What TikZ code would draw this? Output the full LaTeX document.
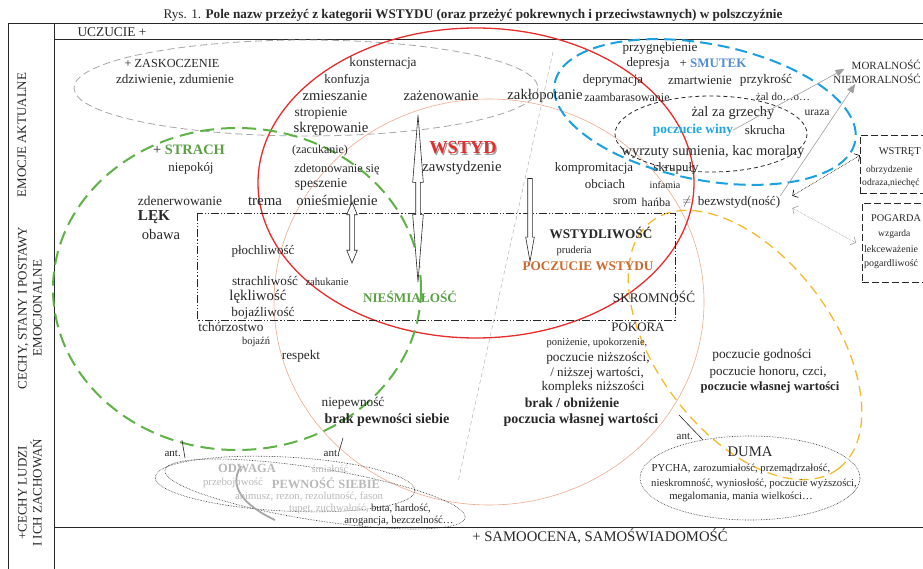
\documentclass[tikz,border=0pt]{standalone}
\usepackage{fontspec}
\setmainfont{Liberation Serif}
\usetikzlibrary{shapes.arrows,arrows.meta,calc}
\newcommand\fsz[1]{\fontsize{#1}{#1}\selectfont}
\definecolor{ink}{RGB}{40,40,40}
\definecolor{wred}{RGB}{232,44,44}
\definecolor{salmon}{RGB}{236,172,142}
\definecolor{fgreen}{RGB}{96,178,72}
\definecolor{tgreen}{RGB}{92,160,70}
\definecolor{sblue}{RGB}{28,160,226}
\definecolor{tblue}{RGB}{84,142,208}
\definecolor{wblue}{RGB}{32,166,226}
\definecolor{dyellow}{RGB}{246,186,46}
\definecolor{wbrown}{RGB}{204,104,44}
\begin{document}
\begin{tikzpicture}[x=1pt, y=-1pt,
lbl/.style = {inner sep=0pt, text=ink},
hazy/.style = {inner sep=0pt, text=gray!55},
side/.style = {inner sep=0pt, text=ink, rotate=90, align=center, font=\fontsize{13}{15}\selectfont},
frameline/.style = {line width=0.9pt, black!85},
hollow/.style = {draw=ink, fill=white, line width=0.6pt, inner xsep=0pt, inner ysep=2pt},
boxdash/.style = {draw=ink, line width=0.7pt, dash pattern=on 7pt off 3pt, inner sep=0pt, anchor=north west},
grayarr/.style = {gray!75, line width=0.6pt, -{Triangle[length=9pt,width=7pt]}},
dotarr/.style = {densely dotted, line width=0.6pt, {Straight Barb[length=4pt,width=9pt]}-{Straight Barb[length=4pt,width=9pt]}},
antline/.style = {ink, line width=0.6pt}
]
\fill[white] (0,0) rectangle (923,569);
\useasboundingbox (0,0) rectangle (923,569);

% title
\node[lbl, font=\fsz{13.2}] (title) at (473,15) {Rys. 1. \textbf{Pole nazw przeżyć z kategorii WSTYDU (oraz przeżyć pokrewnych i przeciwstawnych) w polszczyźnie}};

% frame
\draw[frameline] (8,569) -- (8,23) -- (923,23);
\draw[frameline] (54,569) -- (54,23);
\draw[frameline] (54,39) -- (923,39);
\draw[frameline] (54,527) -- (923,527);

% left column
\node[side] (emocje) at (22,135) {EMOCJE AKTUALNE};
\node[side] (cechy) at (30,308) {CECHY, STANY I POSTAWY\\EMOCJONALNE};
\node[side] (ludzie) at (30,493) {+CECHY LUDZI\\I ICH ZACHOWAŃ};
\node[lbl, font=\fsz{13.4}] (uczucie) at (112,32) {UCZUCIE +};
\node[lbl, font=\fsz{14.7}] (samo) at (600,536) {+ SAMOOCENA, SAMOŚWIADOMOŚĆ};

% fields
\draw[gray!70, line width=0.8pt, dash pattern=on 7pt off 4pt] (306,88) ellipse [x radius=232, y radius=48];
\draw[salmon, line width=0.6pt] (489,302) ellipse [x radius=215, y radius=203];
\draw[wred, line width=1.3pt] (476,183) ellipse [x radius=218, y radius=155];
\draw[fgreen, line width=2pt, dash pattern=on 14pt off 7pt] (237,289) ellipse [x radius=184, y radius=161];
\draw[sblue, line width=2pt, dash pattern=on 12pt off 6pt, rotate around={-11:(705,112)}] (705,112) ellipse [x radius=153, y radius=68];
\draw[ink, line width=0.8pt, dash pattern=on 4pt off 3pt] (711,134) ellipse [x radius=96, y radius=38];
\draw[dyellow, line width=1.3pt, dash pattern=on 10pt off 6pt, rotate around={-53:(745,345)}] (745,345) ellipse [x radius=155, y radius=88];
\draw[ink, densely dotted, line width=0.6pt] (750,478) ellipse [x radius=110, y radius=42];
\draw[ink, densely dotted, line width=0.6pt, rotate around={-3:(285,484)}] (285,484) ellipse [x radius=130, y radius=27];
\draw[ink, densely dotted, line width=0.6pt, rotate around={-9:(315,494)}] (315,494) ellipse [x radius=152, y radius=26];
\draw[gray!70, line width=1.8pt] (241,466) .. controls (228,486) and (243,505) .. (275,520);

% dash-dot frame and divider
\draw[ink, line width=0.8pt, dash pattern=on 8pt off 2pt on 1.2pt off 2pt on 1.2pt off 2pt] (197,213) rectangle (675,320);
\draw[gray!60, line width=0.5pt, dash pattern=on 4pt off 3pt] (553,52) -- (458,482);

% hollow arrows
\node[hollow, double arrow, rotate=90, minimum height=167pt, double arrow head extend=3pt, double arrow tip angle=9] (longarr) at (418,198.5) {};
\node[hollow, double arrow, rotate=90, minimum height=61pt, double arrow head extend=3pt, double arrow tip angle=45] (shortarr) at (352,232.5) {};
\node[hollow, single arrow, rotate=-90, minimum height=83pt, single arrow head extend=2pt, single arrow tip angle=20] (downarr) at (530,213.5) {};

% zaskoczenie
\node[lbl, font=\fsz{12.3}] (zask) at (172,63) {+ ZASKOCZENIE};
\node[lbl, font=\fsz{13.1}] (zdziw) at (175,80) {zdziwienie, zdumienie};

% wstyd
\node[lbl, font=\fsz{13.3}] (konst) at (383,63) {konsternacja};
\node[lbl, font=\fsz{12.9}] (konf) at (347,80) {konfuzja};
\node[lbl, font=\fsz{14.6}] (zmiesz) at (335,96) {zmieszanie};
\node[lbl, font=\fsz{14.5}] (zazen) at (441,96) {zażenowanie};
\node[lbl, font=\fsz{14.7}] (zaklop) at (545,96) {zakłopotanie};
\node[lbl, font=\fsz{12}] (zaamb) at (627,97) {zaambarasowanie};
\node[lbl, font=\fsz{13.4}] (strop) at (321,113) {stropienie};
\node[lbl, font=\fsz{14.8}] (skrep) at (331,129) {skrępowanie};
\node[lbl, font=\fsz{12}] (zacuk) at (320,151) {(zacukanie)};
\node[lbl, font=\fsz{12.3}] (zdeton) at (337,169) {zdetonowanie się};
\node[lbl, font=\fsz{13.6}] (spesz) at (321,184) {speszenie};
\node[lbl, font=\fsz{14.6}] (oniesm) at (337,200) {onieśmielenie};
\node[lbl, font=\fsz{14.9}] (trema) at (265,201) {trema};
\node[lbl, text=gray!75, font=\bfseries\fsz{18.3}] (wstydsh) at (464.3,149.3) {WSTYD};
\node[lbl, text=wred, font=\bfseries\fsz{18.3}] (wstyd) at (463,148) {WSTYD};
\node[lbl, font=\fsz{14.7}] (zawst) at (462,168) {zawstydzenie};

% smutek
\node[lbl, font=\fsz{13.2}] (przygn) at (660,48) {przygnębienie};
\node[lbl, font=\fsz{12.9}] (depr) at (648,63) {depresja};
\node[lbl, font=\bfseries\fsz{13}] (smutek) at (713,63) {\mdseries+ \bfseries\textcolor{tblue}{SMUTEK}};
\node[lbl, font=\fsz{12.9}] (deprym) at (613,80) {deprymacja};
\node[lbl, font=\fsz{12.9}] (zmartw) at (700,80) {zmartwienie};
\node[lbl, font=\fsz{13.2}] (przykr) at (766,80) {przykrość};
\node[lbl, font=\fsz{11}] (zaldo) at (783,97) {żal do…o…};
\node[lbl, font=\fsz{14.5}] (zalza) at (733,113) {żal za grzechy};
\node[lbl, font=\fsz{11.5}] (uraza) at (817,113) {uraza};
\node[lbl, text=wblue, font=\bfseries\fsz{13.4}] (winy) at (693,130) {poczucie winy};
\node[lbl, font=\fsz{12.9}] (skrucha) at (765,130) {skrucha};
\node[lbl, font=\fsz{14.5}] (wyrzuty) at (713,152) {wyrzuty sumienia, kac moralny};
\node[lbl, font=\fsz{12.9}] (kompro) at (594,168) {kompromitacja};
\node[lbl, font=\fsz{12.9}] (skrup) at (676,168) {skrupuły};
\node[lbl, font=\fsz{12.9}] (obciach) at (605,184) {obciach};
\node[lbl, font=\fsz{10}] (infamia) at (665,185) {infamia};
\node[lbl, font=\fsz{12}] (srom) at (625,202) {srom};
\node[lbl, font=\fsz{12}] (hanba) at (656,202) {hańba};
\node[lbl, font=\fsz{12}] (neq) at (687,202) {$\neq$};
\node[lbl, font=\fsz{13.1}] (bezw) at (739,202) {bezwstyd(ność)};

% right edge
\node[lbl, anchor=east, font=\fsz{11}] (moral) at (921,65) {MORALNOŚĆ};
\node[lbl, anchor=east, font=\fsz{11}] (niemoral) at (921,79) {NIEMORALNOŚĆ};
\node[boxdash, minimum width=90pt, minimum height=58pt] (wstretbox) at (860,135) {};
\node[lbl, anchor=east, font=\fsz{10.5}] (wstret) at (921,152) {WSTRĘT};
\node[lbl, anchor=west, font=\fsz{9.5}] (obrz) at (866,170) {obrzydzenie};
\node[lbl, anchor=west, font=\fsz{9.6}] (odraza) at (862,183) {odraza,niechęć};
\node[boxdash, minimum width=90pt, minimum height=79pt] (pogbox) at (862,203) {};
\node[lbl, anchor=west, font=\fsz{10.3}] (pogarda) at (871,218) {POGARDA};
\node[lbl, anchor=west, font=\fsz{9.5}] (wzgarda) at (878,234) {wzgarda};
\node[lbl, anchor=west, font=\fsz{10}] (lekcew) at (864,249) {lekceważenie};
\node[lbl, anchor=west, font=\fsz{10}] (pogardl) at (864,264) {pogardliwość};

\draw[grayarr, shorten >=8pt] (winy.east) -- (moral.west);
\draw[grayarr] (bezw.north east) -- ([xshift=22pt]niemoral.south west);
\draw[dotarr] ([xshift=12pt]bezw.north east) -- ([yshift=9pt]wstretbox.west);
\draw[dotarr, gray!75] ([xshift=12pt,yshift=-6pt]bezw.east) -- ([xshift=-6pt]pogbox.west);

% strach
\node[lbl, font=\bfseries\fsz{14.4}] (strach) at (189,150) {\mdseries+ \bfseries\textcolor{tgreen}{STRACH}};
\node[lbl, font=\fsz{12.9}] (niepok) at (191,168) {niepokój};
\node[lbl, font=\fsz{13.4}] (zdener) at (180,201) {zdenerwowanie};
\node[lbl, font=\bfseries\fsz{15.2}] (lek) at (154,217) {LĘK};
\node[lbl, font=\fsz{14.6}] (obawa) at (161,235) {obawa};
\node[lbl, font=\fsz{13}] (ploch) at (263,251) {płochliwość};
\node[lbl, font=\fsz{13.2}] (strachl) at (265,281) {strachliwość};
\node[lbl, font=\fsz{10.6}] (zahuk) at (327,282) {zahukanie};
\node[lbl, font=\fsz{14.9}] (lekl) at (258,297) {lękliwość};
\node[lbl, font=\fsz{13.2}] (bojazl) at (263,313) {bojaźliwość};
\node[lbl, font=\fsz{13.3}] (tchorz) at (231,327) {tchórzostwo};
\node[lbl, font=\fsz{10.5}] (bojazn) at (256,342) {bojaźń};
\node[lbl, font=\fsz{13.2}] (respekt) at (301,356) {respekt};
\node[lbl, text=tgreen, font=\bfseries\fsz{13.2}] (niesmial) at (410,297) {NIEŚMIAŁOŚĆ};

% wstydliwosc and samoocena
\node[lbl, font=\bfseries\fsz{13.2}] (wstydl) at (601,233) {WSTYDLIWOŚĆ};
\node[lbl, font=\fsz{10.5}] (pruder) at (574,251) {pruderia};
\node[lbl, text=wbrown, font=\bfseries\fsz{13.2}] (poczwst) at (588,266) {POCZUCIE WSTYDU};
\node[lbl, font=\fsz{13.2}] (skrom) at (654,297) {SKROMNOŚĆ};
\node[lbl, font=\fsz{12.9}] (pokora) at (638,327) {POKORA};
\node[lbl, font=\fsz{10.5}] (poniz) at (597,343) {poniżenie, upokorzenie,};
\node[lbl, font=\fsz{13.4}] (nizsz) at (598,358) {poczucie niższości,};
\node[lbl, font=\fsz{13}] (nizszej) at (597,373) {/ niższej wartości,};
\node[lbl, font=\fsz{13.2}] (komplek) at (593,387) {kompleks niższości};
\node[lbl, font=\bfseries\fsz{13.7}] (brak) at (572,403) {brak / obniżenie};
\node[lbl, font=\bfseries\fsz{14}] (poczwl) at (581,420) {poczucia własnej wartości};
\node[lbl, font=\fsz{13.3}] (niepewn) at (353,403) {niepewność};
\node[lbl, font=\bfseries\fsz{14.1}] (brakpew) at (387,420) {brak pewności siebie};
\node[lbl, font=\fsz{13.4}] (godn) at (762,355) {poczucie godności};
\node[lbl, font=\fsz{13}] (honor) at (768,372) {poczucie honoru, czci,};
\node[lbl, font=\bfseries\fsz{12.6}] (wlasnej) at (770,387) {poczucie własnej wartości};

% duma
\node[lbl, font=\fsz{14.7}] (duma) at (750,452) {DUMA};
\node[lbl, font=\fsz{10.7}] (pycha) at (741,469) {PYCHA, zarozumiałość, przemądrzałość,};
\node[lbl, font=\fsz{10.7}] (nieskr) at (754,484) {nieskromność, wyniosłość, poczucie wyższości,};
\node[lbl, font=\fsz{10.7}] (megal) at (741,497) {megalomania, mania wielkości…};

% odwaga
\node[hazy, font=\bfseries\fsz{12.5}] (odwaga) at (247,468) {ODWAGA};
\node[hazy, font=\fsz{10.5}] (smial) at (330,469) {śmiałość};
\node[hazy, font=\fsz{10.8}] (przeboj) at (233,483) {przebojowość};
\node[hazy, font=\bfseries\fsz{12.5}] (pewnosc) at (326,483) {PEWNOŚĆ SIEBIE};
\node[hazy, font=\fsz{10.7}] (animusz) at (309,497) {animusz, rezon, rezolutność, fason};
\node[lbl, font=\fsz{10.7}] (buta) at (360,509) {\textcolor{gray!55}{tupet, zuchwałość,} buta, hardość,};
\node[lbl, font=\fsz{10.7}] (arog) at (399,521) {arogancja, bezczelność…};

% antonyms
\coordinate (ant1a) at (182,440);
\coordinate (ant1b) at (185,458);
\coordinate (ant2a) at (343,438);
\coordinate (ant2b) at (338,455);
\coordinate (ant3a) at (679,415);
\coordinate (ant3b) at (703,440);
\draw[antline] (ant1a) -- (ant1b);
\draw[antline] (ant2a) -- (ant2b);
\draw[antline] (ant3a) -- (ant3b);
\node[lbl, font=\fsz{11}, anchor=east] (ant1) at (181,453) {ant.};
\node[lbl, font=\fsz{11}, anchor=east] (ant2) at (340,453) {ant.};
\node[lbl, font=\fsz{11}, anchor=east] (ant3) at (693,436) {ant.};

\end{tikzpicture}
\end{document}
